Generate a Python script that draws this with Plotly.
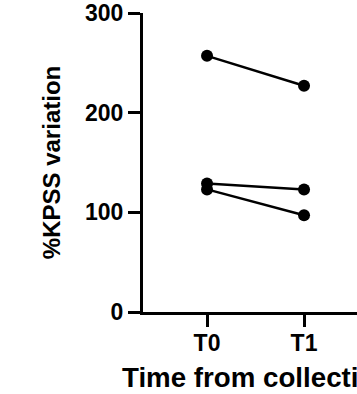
import plotly.graph_objects as go

timepoints = [0, 1]
tick_labels = ["T0", "T1"]
subject_a = [257, 227]
subject_b = [129, 123]
subject_c = [123, 97]
y_ticks = [0, 100, 200, 300]
x_title = "Time from collection"
y_title = "%KPSS variation"

FONT = "Liberation Sans, Arial, sans-serif"

fig = go.Figure()
for series in (subject_a, subject_b, subject_c):
    fig.add_trace(go.Scatter(
        x=timepoints, y=series, mode="lines+markers",
        line=dict(color="black", width=2.5),
        marker=dict(color="black", size=12),
        showlegend=False, cliponaxis=False,
    ))

fig.update_layout(
    width=357, height=394,
    margin=dict(l=143, r=0, t=10, b=82),
    plot_bgcolor="white", paper_bgcolor="white",
    font=dict(family=FONT, color="black", size=22),
)
fig.update_xaxes(
    range=[-0.66, 1.546], tickvals=timepoints, ticktext=tick_labels,
    showline=True, linecolor="black", linewidth=3,
    ticks="outside", ticklen=12, tickwidth=3, tickcolor="black",
    showgrid=False, zeroline=False, ticklabelstandoff=-4,
    tickfont=dict(family=FONT, size=23, weight="bold"),
)
fig.update_yaxes(
    range=[0, 300], tickvals=y_ticks, ticklabeloverflow="allow",
    showline=True, linecolor="black", linewidth=3,
    ticks="outside", ticklen=12, tickwidth=3, tickcolor="black",
    showgrid=False, zeroline=False,
    tickfont=dict(family=FONT, size=23, weight="bold"),
    title=dict(text="<b>" + y_title + "</b>", font=dict(family=FONT, size=24), standoff=18),
)
fig.add_annotation(
    text="<b>" + x_title + "</b>", xref="paper", yref="paper",
    x=-0.1075, y=-0.2202, xanchor="left", yanchor="middle",
    showarrow=False, font=dict(family=FONT, size=27.7, color="black"),
)

fig.write_html("out.html")
